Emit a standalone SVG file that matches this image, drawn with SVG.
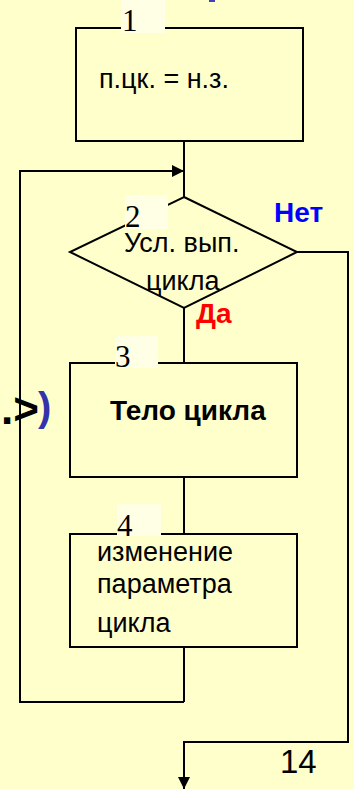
<svg xmlns="http://www.w3.org/2000/svg" width="354" height="789" viewBox="0 0 354 789">
<defs>
<style>
.bg{fill:#FFFFCC}
.blk{fill:none;stroke:#000;stroke-width:2}
.lbl{fill:#FFFFE6;stroke:none}
.num{font-family:"Liberation Serif","Times New Roman",serif;font-size:31px;fill:#000}
.t{font-family:"Liberation Sans",Arial,sans-serif;font-size:27px;fill:#000}
.b{font-family:"Liberation Sans",Arial,sans-serif;font-size:28px;font-weight:bold}
.ln{fill:none;stroke:#000;stroke-width:2}
</style>
<marker id="arr" viewBox="0 0 10 10" refX="10" refY="5" markerWidth="12" markerHeight="12" markerUnits="userSpaceOnUse" orient="auto">
<path d="M0,0 L10,5 L0,10 Z" fill="#000"/>
</marker>
</defs>
<rect class="bg" x="0" y="0" width="354" height="789"/>
<rect x="209" y="0" width="6" height="2" fill="#4040C0"/>
<text x="39" y="424" text-anchor="end" style="font-family:'Liberation Sans',Arial,sans-serif;font-size:44px;font-weight:bold;fill:#000">.&gt;</text>
<text x="38" y="421" style="font-family:'Liberation Sans',Arial,sans-serif;font-size:40px;font-weight:bold;fill:#3333AA">)</text>
<g id="connectors">
<polyline class="ln" points="184,141 184,197"/>
<polyline class="ln" points="184,702 20,702 20,171 184,171" marker-end="url(#arr)"/>
<polyline class="ln" points="184,647 184,702"/>
<polyline class="ln" points="184,308 184,363"/>
<polyline class="ln" points="184,477 184,534"/>
<polyline class="ln" points="297,252 348,252 348,742 184,742 184,789" marker-end="url(#arr)"/>
</g>
<g id="n1">
<rect class="blk" x="76" y="28" width="227" height="113"/>
<rect class="lbl" x="121" y="0" width="44" height="33"/>
<text class="num" x="122" y="31">1</text>
<text class="t" x="99" y="88">п.цк. = н.з.</text>
</g>
<g id="n2">
<polygon class="blk" points="184,197 297,252 184,308 70,252"/>
<rect class="lbl" x="125" y="195" width="43" height="34"/>
<text class="num" x="125" y="227">2</text>
<text class="t" x="124" y="252">Усл. вып.</text>
<text class="t" x="146" y="290">цикла</text>
<text class="b" x="274" y="222" fill="#0000FF">Нет</text>
<text class="b" x="196" y="323" fill="#FF0000">Да</text>
</g>
<g id="n3">
<rect class="blk" x="70" y="363" width="227" height="114"/>
<rect class="lbl" x="115" y="336" width="43" height="32"/>
<text class="num" x="115" y="367">3</text>
<text class="b" x="110" y="420" fill="#000">Тело цикла</text>
</g>
<g id="n4">
<rect class="blk" x="70" y="534" width="227" height="113"/>
<rect class="lbl" x="117" y="504" width="44" height="32"/>
<text class="num" x="117" y="536">4</text>
<text class="t" x="97" y="561">изменение</text>
<text class="t" x="97" y="593">параметра</text>
<text class="t" x="97" y="632">цикла</text>
</g>
<text x="280" y="773" style="font-family:'Liberation Sans',Arial,sans-serif;font-size:33px;fill:#000">14</text>
</svg>
